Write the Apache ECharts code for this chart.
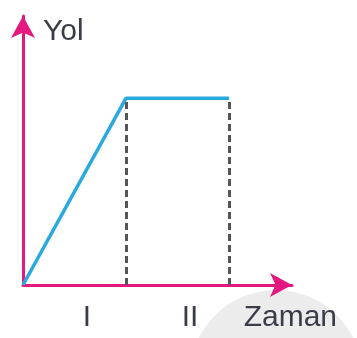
<!DOCTYPE html>
<html>
<head>
<meta charset="utf-8">
<script src="https://cdn.jsdelivr.net/npm/echarts@6/dist/echarts.min.js"></script>
<style>
html,body{margin:0;padding:0;background:#fff;}
#container{width:357px;height:338px;}
</style>
</head>
<body>
<div id="container"></div>
<script>
// zaman - yol noktalari
var zaman = [0, 1, 2];
var yol = [0, 1, 1];
var bolumYeri = [0.62, 1.62];
var bolumAdi = ['I', 'II'];

var noktalar = zaman.map(function (t, i) { return [t, yol[i]]; });

var dom = document.getElementById("container");
var myChart = echarts.init(dom);
var pembe = '#e4187f';
var yazi = {color: '#3a3d48', fontSize: 30, fontFamily: 'Liberation Sans, Arial'};

var option = {
    animation: false,
    grid: {left: 23, right: 65, top: 16, bottom: 53},
    graphic: [{
        type: 'circle',
        shape: {cx: 276, cy: 376, r: 86},
        style: {fill: '#ececec'},
        z: -10
    }],
    xAxis: {
        type: 'value',
        min: 0,
        max: 2.61,
        name: 'Zaman',
        nameLocation: 'end',
        nameGap: 45,
        nameTextStyle: Object.assign({align: 'right', verticalAlign: 'top', padding: [18, 0, 0, 0]}, yazi),
        splitLine: {show: false},
        axisTick: {show: false},
        axisLine: {lineStyle: {color: pembe, width: 3}, symbol: ['none', 'arrow'], symbolSize: [18, 22]},
        axisLabel: {
            customValues: bolumYeri,
            formatter: function (v) {
                var i = bolumYeri.indexOf(v);
                return i >= 0 ? bolumAdi[i] : '';
            },
            margin: 18,
            color: yazi.color,
            fontSize: yazi.fontSize,
            fontFamily: yazi.fontFamily
        }
    },
    yAxis: {
        type: 'value',
        min: 0,
        max: 1.44,
        name: 'Yol',
        nameLocation: 'end',
        nameGap: -16,
        nameTextStyle: Object.assign({align: 'left', verticalAlign: 'middle', padding: [0, 0, 0, 20]}, yazi),
        splitLine: {show: false},
        axisTick: {show: false},
        axisLabel: {show: false},
        axisLine: {lineStyle: {color: pembe, width: 3}, symbol: ['none', 'arrow'], symbolSize: [18, 22]}
    },
    series: [{
        type: 'line',
        data: noktalar,
        symbol: 'none',
        lineStyle: {color: '#29a9df', width: 3.5},
        z: 3,
        markLine: {
            silent: true,
            symbol: 'none',
            label: {show: false},
            lineStyle: {color: '#555', width: 3, type: [7, 4]},
            data: zaman.slice(1).map(function (t, i) {
                return [{coord: [t, 0]}, {coord: [t, yol[i + 1]]}];
            })
        }
    }]
};

if (option && typeof option === "object") {
    myChart.setOption(option, true);
}
</script>
</body>
</html>
